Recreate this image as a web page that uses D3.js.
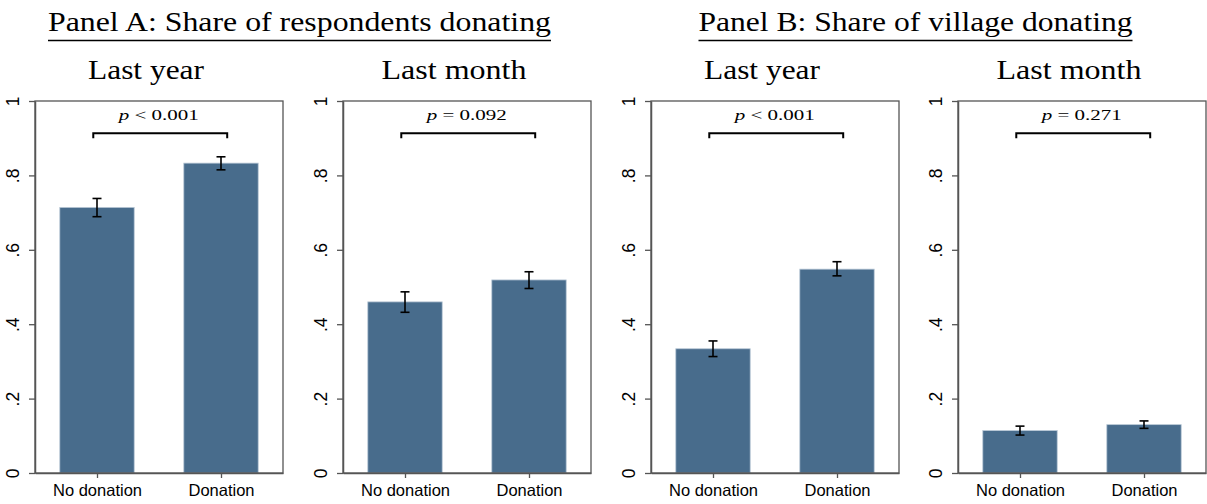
<!DOCTYPE html>
<html>
<head>
<meta charset="utf-8">
<script src="https://cdn.jsdelivr.net/npm/d3@7"></script>
<style>
  body { margin: 0; background: #fff; }
  svg { display: block; }
</style>
</head>
<body>
<div id="chart"></div>
<script>
var categories = ["No donation", "Donation"];
var panelTitles = ["Panel A: Share of respondents donating", "Panel B: Share of village donating"];
var periods = ["Last year", "Last month", "Last year", "Last month"];
var means  = [[0.714, 0.833], [0.460, 0.519], [0.334, 0.548], [0.114, 0.130]];
var ciLow  = [[0.689, 0.815], [0.432, 0.496], [0.313, 0.530], [0.102, 0.120]];
var ciHigh = [[0.738, 0.850], [0.487, 0.541], [0.355, 0.568], [0.126, 0.140]];
var pSigns = ["<", "=", "<", "="];
var pValues = ["0.001", "0.092", "0.001", "0.271"];
var yTicks = [0, 0.2, 0.4, 0.6, 0.8, 1];

var width = 1207, height = 504;
var plotW = 248, plotTop = 101, plotBottom = 473;
var panelLeft = [35, 343, 651, 958];
var barColor = "#486c8c";
var frameColor = "#555";

var svg = d3.select("#chart").append("svg")
    .attr("width", width)
    .attr("height", height);

var y = d3.scaleLinear().domain([0, 1]).range([plotBottom, plotTop]);
var x = d3.scaleLinear().domain([0.5, 2.5]).range([0, plotW]);

// panel titles with underline
panelTitles.forEach(function (t, i) {
    var cx = panelLeft[i * 2] + 264.5;
    var w = i === 0 ? 503 : 434;
    svg.append("text")
        .attr("x", cx)
        .attr("y", 31)
        .attr("text-anchor", "middle")
        .style("font-family", "'Liberation Serif', serif")
        .style("font-size", "27px")
        .attr("textLength", w)
        .attr("lengthAdjust", "spacingAndGlyphs")
        .text(t);
    svg.append("line")
        .attr("x1", cx - w / 2).attr("x2", cx + w / 2)
        .attr("y1", 40.5).attr("y2", 40.5)
        .attr("stroke", "#000")
        .attr("stroke-width", 1.3);
});

var tickFmt = function (d) {
    if (d === 0) return "0";
    if (d === 1) return "1";
    return String(d).replace("0.", ".");
};

periods.forEach(function (period, i) {
    var g = svg.append("g")
        .attr("transform", "translate(" + panelLeft[i] + ",0)");

    // subtitle
    g.append("text")
        .attr("x", plotW / 2 - 13)
        .attr("y", 79)
        .attr("text-anchor", "middle")
        .style("font-family", "'Liberation Serif', serif")
        .style("font-size", "28px")
        .attr("textLength", i % 2 === 0 ? 116 : 145)
        .attr("lengthAdjust", "spacingAndGlyphs")
        .text(period);

    // bars
    g.selectAll("rect.bar")
        .data(means[i])
        .enter()
        .append("rect")
        .attr("class", "bar")
        .attr("x", function (d, j) { return x(j + 1 - 0.3); })
        .attr("width", x(1.3) - x(0.7))
        .attr("y", function (d) { return y(d); })
        .attr("height", function (d) { return y(0) - y(d); })
        .attr("fill", barColor)
        .attr("stroke", "#b9c8d6")
        .attr("stroke-width", 0.8);

    // error bars
    var eb = g.selectAll("g.err")
        .data(means[i])
        .enter()
        .append("g")
        .attr("class", "err")
        .attr("stroke", "#000")
        .attr("stroke-width", 1.6);
    eb.append("line")
        .attr("x1", function (d, j) { return x(j + 1); })
        .attr("x2", function (d, j) { return x(j + 1); })
        .attr("y1", function (d, j) { return y(ciLow[i][j]); })
        .attr("y2", function (d, j) { return y(ciHigh[i][j]); });
    [ciLow[i], ciHigh[i]].forEach(function (arr) {
        eb.append("line")
            .attr("x1", function (d, j) { return x(j + 1) - 4.5; })
            .attr("x2", function (d, j) { return x(j + 1) + 4.5; })
            .attr("y1", function (d, j) { return y(arr[j]); })
            .attr("y2", function (d, j) { return y(arr[j]); });
    });

    // bracket
    var bx1 = x(0.97), bx2 = x(2.05), by = y(0.913);
    g.append("path")
        .attr("d", "M" + bx1 + "," + (by + 5) + "V" + by + "H" + bx2 + "V" + (by + 5))
        .attr("fill", "none")
        .attr("stroke", "#000")
        .attr("stroke-width", 2);

    var pt = g.append("text")
        .attr("x", (bx1 + bx2) / 2 - 1.5)
        .attr("y", y(0.949))
        .attr("text-anchor", "middle")
        .style("font-family", "'Liberation Serif', serif")
        .style("font-size", "14px")
        .attr("textLength", 80)
        .attr("lengthAdjust", "spacingAndGlyphs");
    pt.append("tspan").style("font-style", "italic").text("p");
    pt.append("tspan").text(" " + pSigns[i] + " " + pValues[i]);

    // frame
    g.append("rect")
        .attr("x", 0).attr("y", plotTop)
        .attr("width", plotW).attr("height", plotBottom - plotTop)
        .attr("fill", "none")
        .attr("stroke", frameColor)
        .attr("stroke-width", 1.3);

    // y axis
    var ya = g.append("g")
        .call(d3.axisLeft(y).tickValues(yTicks).tickFormat(tickFmt).tickSize(6).tickSizeOuter(0));
    ya.select(".domain").attr("stroke", frameColor).attr("stroke-width", 1.5);
    ya.selectAll(".tick line").attr("stroke", frameColor).attr("stroke-width", 1.3);
    ya.selectAll(".tick text")
        .attr("transform", "rotate(-90)")
        .attr("x", 0)
        .attr("y", -16)
        .attr("dy", 0)
        .attr("text-anchor", "middle")
        .attr("fill", "#000")
        .style("font-family", "'Liberation Sans', Arial, sans-serif")
        .style("font-size", "17.5px");

    // x axis
    var xa = g.append("g")
        .attr("transform", "translate(0," + plotBottom + ")")
        .call(d3.axisBottom(x).tickValues([1, 2]).tickFormat(function (d) { return categories[d - 1]; }).tickSize(5).tickSizeOuter(0));
    xa.select(".domain").attr("stroke", frameColor).attr("stroke-width", 1.5);
    xa.selectAll(".tick line").attr("stroke", frameColor).attr("stroke-width", 1.3);
    xa.selectAll(".tick text")
        .attr("y", 23)
        .attr("dy", 0)
        .attr("fill", "#000")
        .style("font-family", "'Liberation Sans', Arial, sans-serif")
        .style("font-size", "16.5px");
});
</script>
</body>
</html>
